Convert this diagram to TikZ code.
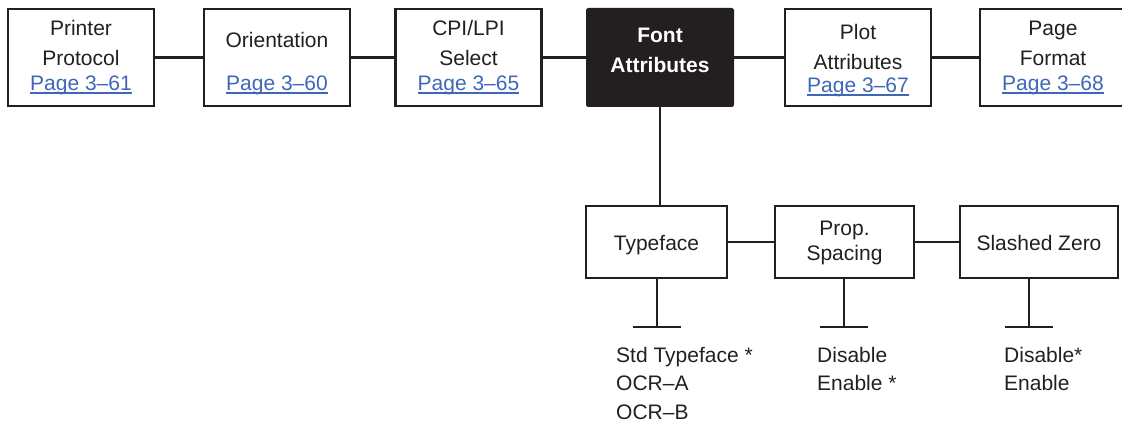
\documentclass[tikz,border=0pt]{standalone}
\usepackage{fontspec}
\setmainfont{Liberation Sans}
\definecolor{ink}{HTML}{231F20}
\definecolor{linkblue}{HTML}{3F66B8}
\newcommand\pglink[1]{{\color{linkblue}\setbox0\hbox{#1}\rlap{\rule[-3.2pt]{\wd0}{1.4pt}}\box0}}
\begin{document}
\begin{tikzpicture}[x=1pt,y=-1pt,
  box/.style={draw=ink,line width=2.6pt,minimum width=146pt,minimum height=97pt,inner sep=0pt},
  sbox/.style={draw=ink,line width=2.6pt,minimum height=72pt,inner sep=0pt},
  dark/.style={fill=ink,draw=ink,line width=1pt,rounded corners=2pt,minimum width=147pt,minimum height=98pt,inner sep=0pt},
  txt/.style={anchor=base,inner sep=0pt,text=ink,font=\fontsize{21}{25}\selectfont},
  ltxt/.style={anchor=base west,inner sep=0pt,text=ink,font=\fontsize{21}{25}\selectfont},
  wire/.style={draw=ink,line width=2.6pt}]
\useasboundingbox (0,0) rectangle (1122,425);
% top row boxes
\node[box] (b1) at (81,57.5) {};
\node[box] (b2) at (277,57.5) {};
\node[box] (b3) at (468.5,57.5) {};
\node[dark] (b4) at (660,57.5) {};
\node[box] (b5) at (858,57.5) {};
\node[box] (b6) at (1053,57.5) {};
% bottom row boxes
\node[sbox,minimum width=141pt] (s1) at (656.5,242) {};
\node[sbox,minimum width=139pt] (s2) at (844.5,242) {};
\node[sbox,minimum width=158pt] (s3) at (1039,242) {};
% connectors
\draw[wire] (b1.east) -- (b2.west);
\draw[wire] (b2.east) -- (b3.west);
\draw[wire] (b3.east) -- (b4.west);
\draw[wire] (b4.east) -- (b5.west);
\draw[wire] (b5.east) -- (b6.west);
\draw[wire] (b4.south) -- (b4.south |- s1.north);
\draw[wire] (s1.east) -- (s2.west);
\draw[wire] (s2.east) -- (s3.west);
% stems
\coordinate (t1) at (657,327);
\coordinate (t2) at (844,327);
\coordinate (t3) at (1029,327);
\draw[wire] (t1 |- s1.south) -- (t1);
\draw[wire] (t2 |- s2.south) -- (t2);
\draw[wire] (t3 |- s3.south) -- (t3);
\draw[wire] ([xshift=-24pt]t1) -- ([xshift=24pt]t1);
\draw[wire] ([xshift=-24pt]t2) -- ([xshift=24pt]t2);
\draw[wire] ([xshift=-24pt]t3) -- ([xshift=24pt]t3);
% top texts
\node[txt] (l1a) at (81,35.5) {Printer};
\node[txt] (l1b) at (81,65.5) {Protocol};
\node[txt] (l1c) at (81,90.5) {\pglink{Page 3–61}};
\node[txt] (l2a) at (277,47.5) {Orientation};
\node[txt] (l2c) at (277,90.5) {\pglink{Page 3–60}};
\node[txt] (l3a) at (468.5,35.5) {CPI/LPI};
\node[txt] (l3b) at (468.5,65.5) {Select};
\node[txt] (l3c) at (468.5,90.5) {\pglink{Page 3–65}};
\node[txt,text=white,font=\fontsize{21}{25}\selectfont\bfseries] (l4a) at (660,42.5) {Font};
\node[txt,text=white,font=\fontsize{21}{25}\selectfont\bfseries] (l4b) at (660,72.5) {Attributes};
\node[txt] (l5a) at (858,39.5) {Plot};
\node[txt] (l5b) at (858,69.5) {Attributes};
\node[txt] (l5c) at (858,92.5) {\pglink{Page 3–67}};
\node[txt] (l6a) at (1053,35.5) {Page};
\node[txt] (l6b) at (1053,65.5) {Format};
\node[txt] (l6c) at (1053,90.5) {\pglink{Page 3–68}};
% bottom box texts
\node[txt] (m1) at (656.5,250) {Typeface};
\node[txt] (m2a) at (844.5,235.5) {Prop.};
\node[txt] (m2b) at (844.5,260.5) {Spacing};
\node[txt] (m3) at (1039,250) {Slashed Zero};
% option lists
\node[ltxt] (o1a) at (616,362.5) {Std Typeface *};
\node[ltxt] (o1b) at (616,390.5) {OCR–A};
\node[ltxt] (o1c) at (616,419.5) {OCR–B};
\node[ltxt] (o2a) at (817,362.5) {Disable};
\node[ltxt] (o2b) at (817,390.5) {Enable *};
\node[ltxt] (o3a) at (1004,362.5) {Disable*};
\node[ltxt] (o3b) at (1004,390.5) {Enable};
\end{tikzpicture}
\end{document}
